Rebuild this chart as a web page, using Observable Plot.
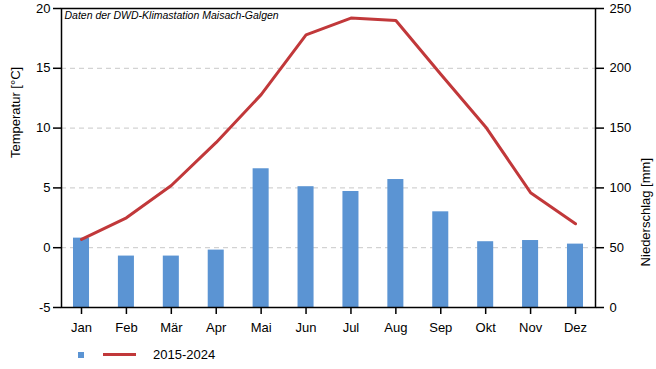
<!DOCTYPE html>
<html>
<head>
<meta charset="utf-8">
<script src="https://cdn.jsdelivr.net/npm/d3@7"></script>
<script src="https://cdn.jsdelivr.net/npm/@observablehq/plot@0.6"></script>
<style>
  body { margin: 0; background: white; font-family: "Liberation Sans", Arial, sans-serif; }
  #wrap { position: relative; width: 656px; height: 369px; }
  #legend { position: absolute; left: 0; top: 344px; width: 656px; height: 22px; font-size: 13px; color: #000; }
  #legend .sq { position: absolute; left: 78px; top: 8px; width: 6px; height: 6px; background: #5b94d3; }
  #legend .ln { position: absolute; left: 103px; top: 9px; width: 33px; height: 3px; background: #c1383a; }
  #legend .tx { position: absolute; left: 153px; top: 3px; line-height: 15px; }
</style>
</head>
<body>
<div id="wrap">
  <div id="chart"></div>
  <div id="legend"><span class="sq"></span><span class="ln"></span><span class="tx">2015-2024</span></div>
</div>
<script>
const months = ["Jan","Feb","Mär","Apr","Mai","Jun","Jul","Aug","Sep","Okt","Nov","Dez"];
const temperature = [0.7, 2.5, 5.2, 8.8, 12.8, 17.8, 19.2, 19.0, 14.5, 10.1, 4.6, 2.0];
const precipitation = [58, 43, 43, 48, 116, 101, 97, 107, 80, 55, 56, 53];
const tempTicks = [-5, 0, 5, 10, 15, 20];
const gridTicks = [0, 5, 10, 15];
const precipTicks = [0, 50, 100, 150, 200, 250];

// precipitation (0..250 mm) shares the frame with temperature (-5..20 °C)
const p2t = p => p / 10 - 5;
const t2p = t => String(Math.round((t + 5) * 10));

const data = months.map((m, i) => ({month: m, temp: temperature[i], precip: precipitation[i]}));

const chart = Plot.plot({
  width: 656,
  height: 342,
  marginTop: 8,
  marginBottom: 35,
  marginLeft: 61,
  marginRight: 61,
  style: {fontFamily: "'Liberation Sans', Arial, sans-serif", fontSize: "13px", color: "#000", background: "white"},
  x: {domain: months, paddingInner: 0.643, paddingOuter: 0.267, round: false, label: null},
  y: {domain: [-5, 20], label: null},
  marks: [
    Plot.ruleY(gridTicks, {stroke: "#c8c8c8", strokeDasharray: "5,4", strokeWidth: 1}),
    Plot.barY(data, {x: "month", y1: -5, y2: d => p2t(d.precip), fill: "#5b94d3"}),
    Plot.lineY(data, {x: "month", y: "temp", stroke: "#c1383a", strokeWidth: 3}),
    Plot.frame({stroke: "black", strokeWidth: 1.5}),
    Plot.axisY(tempTicks, {anchor: "left", tickSize: 8, tickPadding: 3, strokeWidth: 1.5, fontSize: 13, tickFormat: d => String(d), label: null}),
    Plot.axisY(precipTicks.map(p2t), {anchor: "right", tickSize: 8, tickPadding: 6, strokeWidth: 1.5, fontSize: 13, tickFormat: t2p, label: null}),
    Plot.axisX({tickSize: 7, tickPadding: 8, strokeWidth: 1.5, fontSize: 13, label: null}),
    Plot.text(["Temperatur [°C]"], {frameAnchor: "left", dx: -46, rotate: -90, fontSize: 13}),
    Plot.text(["Niederschlag [mm]"], {frameAnchor: "right", dx: 50, rotate: -90, fontSize: 13}),
    Plot.text(["Daten der DWD-Klimastation Maisach-Galgen"], {frameAnchor: "top-left", dx: 3, dy: 7, lineAnchor: "middle", textAnchor: "start", fontSize: 10.5, fontStyle: "italic"})
  ]
});
document.getElementById("chart").appendChild(chart);
</script>
</body>
</html>
